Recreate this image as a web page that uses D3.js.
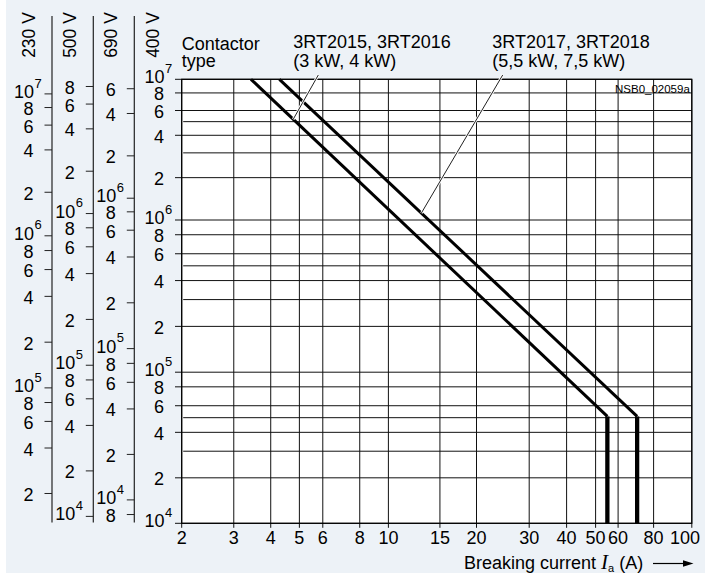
<!DOCTYPE html>
<html><head><meta charset="utf-8">
<script src="https://cdn.jsdelivr.net/npm/d3@7"></script>
<style>
body{margin:0;background:#fff;}
text{font-family:"Liberation Sans",Arial,Helvetica,sans-serif;fill:#000;}
</style>
</head><body>
<svg id="chart" width="705" height="574"></svg>
<script>
// ---------------- data ----------------
const xTickValues = [2,3,4,5,6,8,10,15,20,30,40,50,60,80,100];
const yTicked400 = [1e4,2e4,4e4,6e4,8e4,1e5,2e5,4e5,6e5,8e5,1e6,2e6,4e6,6e6,8e6,1e7];
const yUnticked = [3e4,5e4,3e5,5e5,3e6,5e6];
const ticks230 = [2e4,4e4,6e4,8e4,1e5,2e5,4e5,6e5,8e5,1e6,2e6,4e6,6e6,8e6,1e7];
const ticks500 = [1e4,2e4,4e4,6e4,8e4,1e5,2e5,4e5,6e5,8e5,1e6,2e6,4e6,6e6,8e6];
const ticks690 = [8e3,1e4,2e4,4e4,6e4,8e4,1e5,2e5,4e5,6e5,8e5,1e6,2e6,4e6,6e6];
const voltageNames = ["230 V","500 V","690 V","400 V"];
const voltageFactors = [1.27, 0.9, 0.7, 1]; // cycles at voltage / cycles at 400 V
// curves: breaking current (A) vs operating cycles (at 400 V)
const curveA_current = [3.43, 55, 55];
const curveA_cycles  = [1e7, 5.1e4, 1e4];
const curveB_current = [4.28, 70, 70];
const curveB_cycles  = [1e7, 5.1e4, 1e4];
const seriesLabelA = ["3RT2015, 3RT2016","(3 kW, 4 kW)"];
const seriesLabelB = ["3RT2017, 3RT2018","(5,5 kW, 7,5 kW)"];
const leaderCycles = [5.2e6, 1.12e6]; // where the leader lines touch curves A and B

// ---------------- layout ----------------
const svg = d3.select("#chart");
const L = 181.7, R = 691.8, T = 79.3, B = 523.3;
// piecewise log scales calibrated to the drawing's (hand-drawn) grid
const x = d3.scaleLog().domain([2,10,20,50,80,100]).range([L,388.4,476.5,595.6,653.6,R]);
const y = d3.scaleLog().domain([1e4,1e5,1e6,1e7]).range([B,372.2,220,T]);

svg.append("rect").attr("x",6).attr("y",0).attr("width",699).attr("height",573).attr("fill","#edf2f7");
svg.append("rect").attr("x",L).attr("y",T).attr("width",R-L).attr("height",B-T).attr("fill","#fff");

const grid = svg.append("g").attr("stroke","#111").attr("stroke-width",1).attr("fill","none");
grid.selectAll("line.v").data(xTickValues).join("line")
  .attr("x1",d=>x(d)).attr("x2",d=>x(d)).attr("y1",T).attr("y2",B+4.5);
grid.selectAll("line.h").data(yTicked400).join("line")
  .attr("x1",L-6.7).attr("x2",R).attr("y1",d=>y(d)).attr("y2",d=>y(d));
grid.selectAll("line.hu").data(yUnticked).join("line")
  .attr("x1",L+1.5).attr("x2",R).attr("y1",d=>y(d)).attr("y2",d=>y(d));
svg.append("rect").attr("x",L).attr("y",T).attr("width",R-L).attr("height",B-T)
  .attr("fill","none").attr("stroke","#000").attr("stroke-width",1.2);

// x tick labels (last one kept inside the picture)
svg.append("g").selectAll("text").data(xTickValues).join("text")
  .attr("x",(d,i)=> i===xTickValues.length-1 ? 700 : x(d)).attr("y",544)
  .attr("text-anchor",(d,i)=> i===xTickValues.length-1 ? "end" : "middle")
  .attr("font-size",18).text(d=>d);

// ---------------- voltage axes ----------------
function isPow10(v){ const e=Math.log10(v); return Math.abs(e-Math.round(e))<1e-9; }
const axesDef = [
  {name:voltageNames[0], f:voltageFactors[0], ticks:ticks230, axisX:52, titleX:35},
  {name:voltageNames[1], f:voltageFactors[1], ticks:ticks500, axisX:93.3, titleX:75.5},
  {name:voltageNames[2], f:voltageFactors[2], ticks:ticks690, axisX:134.3, titleX:116.7},
  {name:voltageNames[3], f:voltageFactors[3], ticks:yTicked400, axisX:L, titleX:159.3, main:true}
];
axesDef.forEach(a=>{
  const g = svg.append("g");
  const yy = v => y(v / a.f);
  const tickLen = a.main ? 6.7 : 7.5;
  const labRight = a.axisX - tickLen - 11;
  if(!a.main){
    g.append("line").attr("x1",a.axisX).attr("x2",a.axisX).attr("y1",16).attr("y2",522.5)
      .attr("stroke","#222").attr("stroke-width",1.2);
    g.selectAll("line.t").data(a.ticks).join("line")
      .attr("x1",a.axisX-tickLen).attr("x2",a.axisX).attr("y1",yy).attr("y2",yy)
      .attr("stroke","#222").attr("stroke-width",1);
  }
  a.ticks.forEach(v=>{
    const ty = yy(v);
    if(isPow10(v)){
      g.append("text").attr("x",labRight+0.5).attr("y",ty+4).attr("text-anchor","end")
        .attr("font-size",18).text("10");
      g.append("text").attr("x",labRight+1).attr("y",ty-6.3).attr("text-anchor","start")
        .attr("font-size",13).text(Math.round(Math.log10(v)));
    } else {
      const m = Math.round(v/Math.pow(10,Math.floor(Math.log10(v)+1e-9)));
      g.append("text").attr("x",labRight).attr("y",ty+7.5).attr("text-anchor","end")
        .attr("font-size",18).text(m);
    }
  });
  svg.append("text").attr("transform",`translate(${a.titleX},35) rotate(-90)`)
    .attr("text-anchor","middle").attr("font-size",17.5).text(a.name);
});

// ---------------- curves ----------------
const line = d3.line().x(d=>x(d[0])).y(d=>y(d[1]));
const curves = [
  d3.zip(curveA_current, curveA_cycles),
  d3.zip(curveB_current, curveB_cycles)
];
curves.forEach(c=>{
  svg.append("path").attr("d",line(c.slice(0,2))).attr("fill","none")
    .attr("stroke","#000").attr("stroke-width",3);
  svg.append("path").attr("d",line(c.slice(1))).attr("fill","none")
    .attr("stroke","#000").attr("stroke-width",4.3);
});

// pixel point on a drawn curve at a given number of cycles
function pointAt(c, n){
  const py = y(n);
  for(let i=0;i<c.length-1;i++){
    const y0=y(c[i][1]), y1=y(c[i+1][1]);
    if(py>=y0 && py<=y1){
      const t=(py-y0)/(y1-y0);
      return [x(c[i][0])+t*(x(c[i+1][0])-x(c[i][0])), py];
    }
  }
  return [x(c[0][0]), y(c[0][1])];
}

// ---------------- labels ----------------
function seriesLabel(lines, lx, curve, n, startDx){
  const g = svg.append("g");
  g.append("text").attr("x",lx).attr("y",48.3).attr("font-size",18).text(lines[0]);
  g.append("text").attr("x",lx).attr("y",66.5).attr("font-size",18).text(lines[1]);
  const [ex, ey] = pointAt(curve, n);
  const sx = lx+startDx, sy = 75;
  g.append("line").attr("x1",sx).attr("y1",sy).attr("x2",ex).attr("y2",ey)
    .attr("stroke","#fff").attr("stroke-width",2.6);
  g.append("line").attr("x1",sx).attr("y1",sy).attr("x2",ex).attr("y2",ey)
    .attr("stroke","#222").attr("stroke-width",1);
}
seriesLabel(seriesLabelA, 293.3, curves[0], leaderCycles[0], 25);
seriesLabel(seriesLabelB, 492.3, curves[1], leaderCycles[1], 10.4);

svg.append("text").attr("x",L).attr("y",49.5).attr("font-size",18).text("Contactor");
svg.append("text").attr("x",L).attr("y",67).attr("font-size",18).text("type");

svg.append("text").attr("x",R-2).attr("y",93).attr("text-anchor","end")
  .attr("font-size",11.5).text("NSB0_02059a");

// x-axis title
const xt = svg.append("text").attr("x",464).attr("y",569).attr("font-size",18);
xt.append("tspan").text("Breaking current ");
xt.append("tspan").attr("font-family","'Liberation Serif',serif").attr("font-style","italic")
  .attr("font-size",21).text("I");
xt.append("tspan").attr("font-size",11).attr("dy",3).text("a");
xt.append("tspan").attr("dy",-3).text(" (A)");
svg.append("line").attr("x1",653).attr("x2",684).attr("y1",563.5).attr("y2",563.5)
  .attr("stroke","#000").attr("stroke-width",1.2);
svg.append("path").attr("d","M683,560.3 L693.5,563.5 L683,566.7 Z").attr("fill","#000");
</script>
</body></html>
